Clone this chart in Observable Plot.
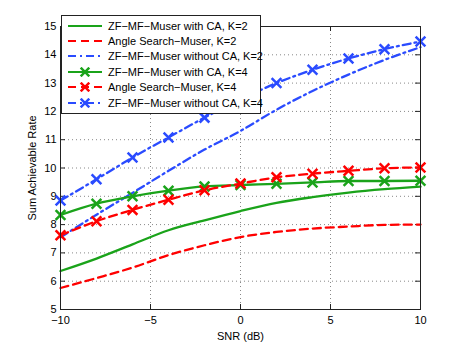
<!DOCTYPE html>
<html>
<head>
<meta charset="utf-8">
<script src="https://cdn.jsdelivr.net/npm/d3@7"></script>
<script src="https://cdn.jsdelivr.net/npm/@observablehq/plot@0.6"></script>
<style>
  html, body { margin: 0; padding: 0; background: #fff; }
  #wrap { position: relative; width: 463px; height: 348px; font-family: "Liberation Sans", Arial, sans-serif; }
  #legend { position: absolute; left: 61px; top: 15px; width: 200px; background: #fff; border: 1px solid #222; padding: 2px 0 3px 0; box-sizing: border-box; }
  .row { display: flex; align-items: center; height: 15.4px; font-size: 11px; color: #000; white-space: nowrap; }
  .row svg { margin: 0 5px 0 5px; flex: none; }
</style>
</head>
<body>
<div id="wrap"></div>
<script>
// ---- data ----
const snr = [-10, -8, -6, -4, -2, 0, 2, 4, 6, 8, 10];
const zfCA_K2   = [6.36, 6.80, 7.30, 7.80, 8.15, 8.48, 8.77, 8.97, 9.13, 9.25, 9.34];
const angle_K2  = [5.76, 6.11, 6.48, 6.92, 7.27, 7.56, 7.74, 7.86, 7.93, 7.99, 8.00];
const zfNoCA_K2 = [7.55, 8.35, 9.12, 9.90, 10.65, 11.31, 12.06, 12.72, 13.30, 13.82, 14.27];
const zfCA_K4   = [8.34, 8.74, 9.00, 9.20, 9.35, 9.40, 9.44, 9.49, 9.54, 9.54, 9.55];
const angle_K4  = [7.62, 8.12, 8.52, 8.88, 9.21, 9.45, 9.67, 9.80, 9.90, 9.99, 10.02];
const zfNoCA_K4 = [8.85, 9.60, 10.37, 11.08, 11.78, 12.42, 13.00, 13.47, 13.87, 14.20, 14.47];
const xTicks = [-10, -5, 0, 5, 10];
const yTicks = [5, 6, 7, 8, 9, 10, 11, 12, 13, 14, 15];
const seriesNames = [
  "ZF\u2212MF\u2212Muser with CA, K=2",
  "Angle Search\u2212Muser, K=2",
  "ZF\u2212MF\u2212Muser without CA, K=2",
  "ZF\u2212MF\u2212Muser with CA, K=4",
  "Angle Search\u2212Muser, K=4",
  "ZF\u2212MF\u2212Muser without CA, K=4"
];
const seriesValues = [zfCA_K2, angle_K2, zfNoCA_K2, zfCA_K4, angle_K4, zfNoCA_K4];

// ---- styles ----
const GREEN = "#1aa31a", RED = "#ff0000", BLUE = "#2a4bff";
const styles = [
  {color: GREEN, dash: null, marker: false},
  {color: RED, dash: "8,5", marker: false},
  {color: BLUE, dash: "8,4,2,4", marker: false},
  {color: GREEN, dash: null, marker: true},
  {color: RED, dash: "8,5", marker: true},
  {color: BLUE, dash: "8,4,2,4", marker: true}
];

const W = 463, H = 348, mL = 60, mR = 43, mT = 26, mB = 39;
const pw = W - mL - mR, ph = H - mT - mB;
const tick = 5;

const tables = seriesValues.map((vals, i) => snr.map((x, j) => ({x, y: vals[j], s: seriesNames[i]})));

const marks = [
  Plot.gridX(xTicks, {stroke: "#888", strokeOpacity: 1, strokeDasharray: "1,3"}),
  Plot.gridY(yTicks, {stroke: "#888", strokeOpacity: 1, strokeDasharray: "1,3"}),
  Plot.ruleX(xTicks, {x: d => d, insetTop: ph - tick, stroke: "#222"}),
  Plot.ruleX(xTicks, {x: d => d, insetBottom: ph - tick, stroke: "#222"}),
  Plot.ruleY(yTicks, {y: d => d, insetRight: pw - tick, stroke: "#222"}),
  Plot.ruleY(yTicks, {y: d => d, insetLeft: pw - tick, stroke: "#222"}),
  Plot.axisX(xTicks, {tickSize: 0, tickPadding: 7, label: "SNR (dB)", labelAnchor: "center", labelArrow: "none", labelOffset: 30, fontSize: 11}),
  Plot.axisY(yTicks, {tickSize: 0, tickPadding: 4, label: "Sum Achievable Rate", labelAnchor: "center", labelArrow: "none", labelOffset: 32, fontSize: 11}),
];
tables.forEach((t, i) => {
  const st = styles[i];
  marks.push(Plot.line(t, {x: "x", y: "y", stroke: st.color, strokeWidth: 2.3, strokeDasharray: st.dash, curve: "monotone-x"}));
  if (st.marker) marks.push(Plot.dot(t, {x: "x", y: "y", symbol: "times", r: 4.5, stroke: st.color, strokeWidth: 2.5}));
});
marks.push(Plot.frame({stroke: "#222"}));

const chart = Plot.plot({
  width: W, height: H,
  marginLeft: mL, marginRight: mR, marginTop: mT, marginBottom: mB,
  style: {fontFamily: "'Liberation Sans', Arial, sans-serif", fontSize: "11px", color: "#000", background: "#fff"},
  x: {domain: [-10, 10]},
  y: {domain: [5, 15]},
  marks
});
const wrap = document.getElementById("wrap");
wrap.appendChild(chart);

// ---- legend overlay ----
const legend = document.createElement("div");
legend.id = "legend";
seriesNames.forEach((name, i) => {
  const st = styles[i];
  const row = document.createElement("div");
  row.className = "row";
  const svg = d3.create("svg").attr("width", 36).attr("height", 10);
  svg.append("line").attr("x1", 1).attr("x2", 35).attr("y1", 5).attr("y2", 5)
    .attr("stroke", st.color).attr("stroke-width", 2).attr("stroke-dasharray", st.dash);
  if (st.marker) {
    svg.append("path").attr("d", d3.symbol(d3.symbolTimes, 50)()).attr("transform", "translate(18,5)")
      .attr("stroke", st.color).attr("stroke-width", 2.5).attr("fill", "none");
  }
  row.appendChild(svg.node());
  const span = document.createElement("span");
  span.textContent = name;
  row.appendChild(span);
  legend.appendChild(row);
});
wrap.appendChild(legend);
</script>
</body>
</html>
